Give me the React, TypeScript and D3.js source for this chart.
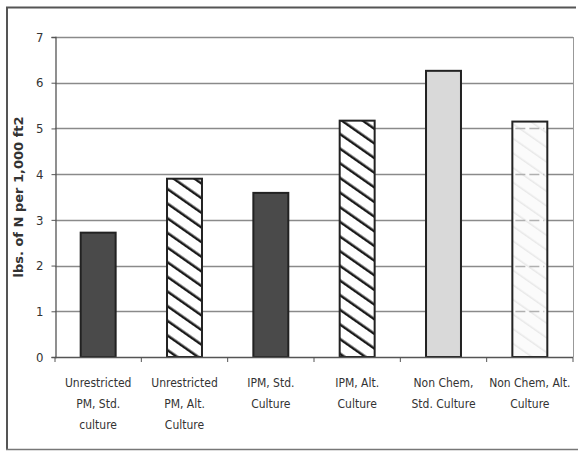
import { useEffect, useRef } from "react";
import * as d3 from "d3";

const categories = [
  ["Unrestricted", "PM, Std.", "culture"],
  ["Unrestricted", "PM, Alt.", "Culture"],
  ["IPM,  Std.", "Culture"],
  ["IPM,  Alt.", "Culture"],
  ["Non Chem,", "Std. Culture"],
  ["Non Chem, Alt.", "Culture"],
];
const values = [2.72, 3.9, 3.59, 5.17, 6.26, 5.15];
const fills = ["dark", "hatch", "dark", "hatch", "light", "faint"];
const yTicks = [0, 1, 2, 3, 4, 5, 6, 7];
const yLabel = "lbs. of N per 1,000 ft2";

const LABEL_FONT = "'DejaVu Sans', sans-serif";

const App = () => {
  const svgRef = useRef<SVGSVGElement>(null);

  useEffect(() => {
    if (!svgRef.current) return;
    const svg = d3.select(svgRef.current);
    svg.selectAll("*").remove();

    const width = 578;
    const height = 455;
    const left = 55;
    const right = 573;
    const top = 37;
    const bottom = 357;

    svg.attr("width", width).attr("height", height);

    const defs = svg.append("defs");
    const hatch = defs
      .append("pattern")
      .attr("id", "hatch")
      .attr("patternUnits", "userSpaceOnUse")
      .attr("width", 12)
      .attr("height", 12)
      .attr("patternTransform", "rotate(-55)");
    hatch.append("rect").attr("width", 12).attr("height", 12).attr("fill", "#fff");
    hatch.append("line").attr("x1", 0).attr("y1", 0).attr("x2", 0).attr("y2", 12)
      .attr("stroke", "#1a1a1a").attr("stroke-width", 5);

    const faint = defs
      .append("pattern")
      .attr("id", "faint")
      .attr("patternUnits", "userSpaceOnUse")
      .attr("width", 12)
      .attr("height", 12)
      .attr("patternTransform", "rotate(-55)");
    faint.append("rect").attr("width", 12).attr("height", 12).attr("fill", "#fbfbfb");
    faint.append("line").attr("x1", 0).attr("y1", 0).attr("x2", 0).attr("y2", 12)
      .attr("stroke", "#e8e8e8").attr("stroke-width", 3);

    svg.append("rect").attr("width", width).attr("height", height).attr("fill", "#fff");

    // outer frame
    const frame = svg.append("g").attr("fill", "none");
    frame.append("path")
      .attr("d", "M7,450 L7,7.5 L576,7.5")
      .attr("stroke", "#555")
      .attr("stroke-width", 2);
    frame.append("line").attr("x1", 6).attr("x2", 578).attr("y1", 449.5).attr("y2", 449.5)
      .attr("stroke-width", 1.5).attr("stroke", "#777");

    const x = d3.scaleBand<number>().domain(d3.range(categories.length)).range([left, right]).padding(0);
    const y = d3.scaleLinear().domain([0, 7]).range([bottom, top]);
    const barW = x.bandwidth() * 0.405;

    // gridlines
    svg.append("g")
      .selectAll("line")
      .data(yTicks.filter((t) => t > 0))
      .enter()
      .append("line")
      .attr("x1", left)
      .attr("x2", right)
      .attr("y1", (d) => Math.round(y(d)) + 0.5)
      .attr("y2", (d) => Math.round(y(d)) + 0.5)
      .attr("stroke", "#8a8a8a")
      .attr("stroke-width", 1.3);

    // right frame
    svg.append("line").attr("x1", right + 0.5).attr("x2", right + 0.5).attr("y1", top).attr("y2", bottom)
      .attr("stroke", "#999").attr("stroke-width", 1);

    // bars
    const bars = svg.append("g");
    values.forEach((v, i) => {
      const bx = x(i)! + (x.bandwidth() - barW) / 2;
      const f = fills[i];
      let fill = "#4a4a4a";
      if (f === "hatch") fill = "url(#hatch)";
      if (f === "light") fill = "#d9d9d9";
      if (f === "faint") fill = "url(#faint)";
      bars.append("rect")
        .attr("x", bx)
        .attr("y", y(v))
        .attr("width", barW)
        .attr("height", y(0) - y(v))
        .attr("fill", fill)
        .attr("stroke", "#222")
        .attr("stroke-width", 2);
      if (f === "faint") {
        bars.append("g")
          .selectAll("line")
          .data(yTicks.filter((t) => t > 0 && t < v))
          .enter()
          .append("line")
          .attr("x1", bx + 3)
          .attr("x2", bx + barW - 3)
          .attr("y1", (d) => Math.round(y(d)) + 0.5)
          .attr("y2", (d) => Math.round(y(d)) + 0.5)
          .attr("stroke", "#b0b0b0")
          .attr("stroke-width", 1.3)
          .attr("stroke-dasharray", "10,4");
      }
    });

    // y axis
    const yAxis = svg.append("g").attr("transform", `translate(${left + 0.5},0)`)
      .call(d3.axisLeft(y).tickValues(yTicks).tickFormat(d3.format("d")).tickSize(4).tickPadding(8));
    yAxis.select(".domain").attr("stroke", "#555").attr("stroke-width", 1.3);
    yAxis.selectAll(".tick line").attr("stroke", "#555");
    yAxis.selectAll(".tick text")
      .attr("font-family", LABEL_FONT)
      .attr("font-stretch", "condensed")
      .attr("font-size", 13)
      .attr("fill", "#333");

    // x axis
    const xAxisG = svg.append("g");
    xAxisG.append("line").attr("x1", left).attr("x2", right).attr("y1", bottom + 0.5).attr("y2", bottom + 0.5)
      .attr("stroke", "#555").attr("stroke-width", 1.5);
    xAxisG.selectAll("line.tk")
      .data(d3.range(categories.length + 1))
      .enter()
      .append("line")
      .attr("class", "tk")
      .attr("x1", (d) => (d < categories.length ? x(d)! : right))
      .attr("x2", (d) => (d < categories.length ? x(d)! : right))
      .attr("y1", bottom)
      .attr("y2", bottom + 5)
      .attr("stroke", "#555");

    const labels = svg.append("g")
      .attr("font-family", LABEL_FONT)
      .attr("font-stretch", "condensed")
      .attr("font-size", 12)
      .attr("fill", "#333")
      .attr("text-anchor", "middle");
    categories.forEach((lines, i) => {
      const cx = x(i)! + x.bandwidth() / 2;
      const t = labels.append("text").attr("x", cx).attr("y", bottom + 30);
      lines.forEach((ln, j) => {
        t.append("tspan").attr("x", cx).attr("dy", j === 0 ? 0 : 21).text(ln);
      });
    });

    // y label
    svg.append("text")
      .attr("transform", `translate(23, ${(top + bottom) / 2}) rotate(-90)`)
      .attr("text-anchor", "middle")
      .attr("font-family", "'DejaVu Sans', sans-serif")
      .attr("font-weight", "bold")
      .attr("font-size", 13)
      .attr("fill", "#333")
      .text(yLabel);
  }, []);

  return (
    <svg ref={svgRef} style={{ position: "absolute", left: 0, top: 0, display: "block" }} />
  );
};

export default App;
